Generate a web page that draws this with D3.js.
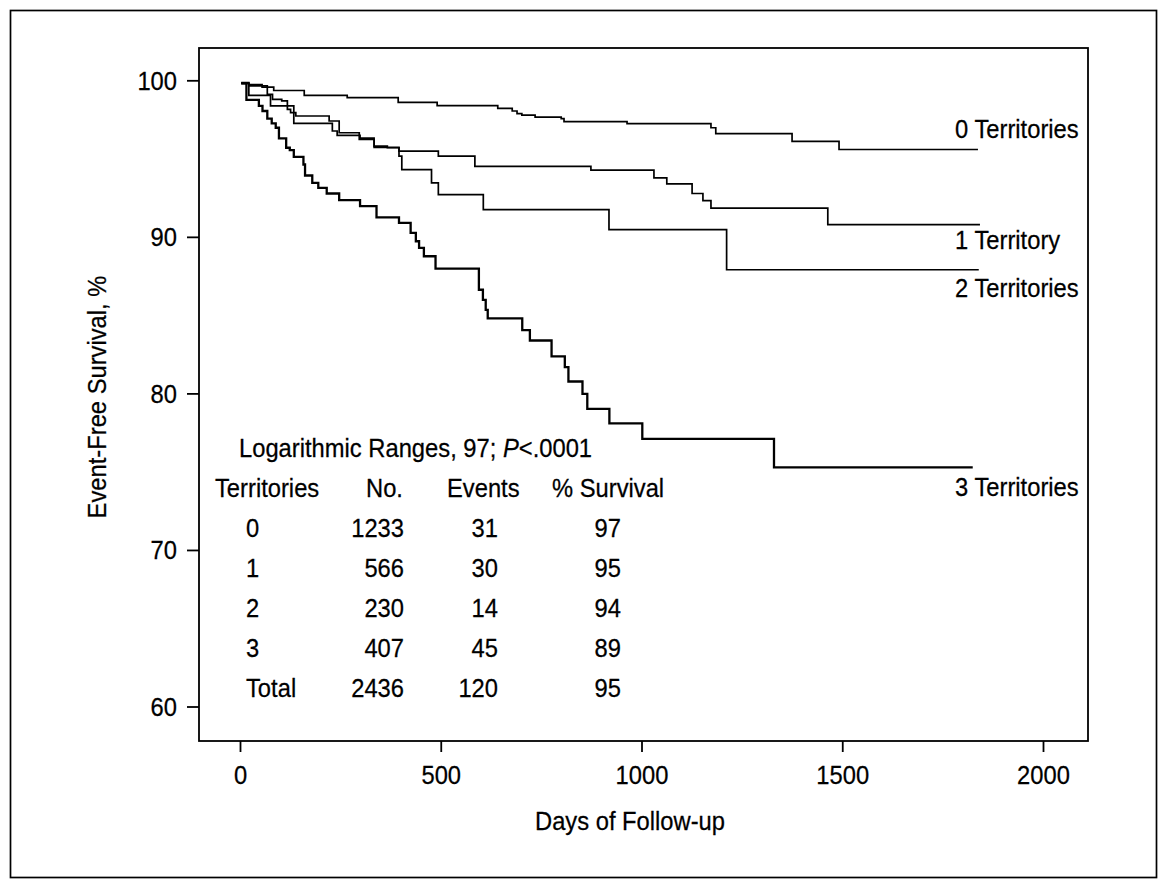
<!DOCTYPE html>
<html>
<head>
<meta charset="utf-8">
<script src="https://cdn.jsdelivr.net/npm/d3@7"></script>
<style>
  html, body { margin: 0; padding: 0; background: #fff; }
  svg text { font-family: "Liberation Sans", Arial, sans-serif; fill: #000; }
</style>
</head>
<body>
<svg id="chart" width="1166" height="887"></svg>
<script>
// ---- data ----
const groupNames = ["0 Territories", "1 Territory", "2 Territories", "3 Territories"];
// step points: [day, event-free survival % from that day on]
const surv0 = [[3,99.85],[22,99.72],[55,99.57],[84,99.35],[160,99.04],[267,98.89],[394,98.59],[491,98.38],[642,98.21],[678,98.04],[690,97.87],[702,97.78],[735,97.65],[800,97.55],[807,97.36],[964,97.23],[1173,96.97],[1185,96.6],[1375,96.1],[1492,95.58]];
const surv1 = [[3,99.8],[22,99.64],[68,99.1],[81,98.78],[104,98.68],[118,98.14],[126,97.93],[139,97.72],[222,97.4],[247,96.65],[297,96.22],[334,95.8],[367,95.69],[396,95.48],[494,95.16],[585,94.5],[874,94.26],[1031,93.77],[1063,93.38],[1126,92.77],[1153,92.32],[1173,91.83],[1464,90.78]];
const surv2 = [[3,99.8],[22,99.04],[76,98.36],[134,97.25],[230,96.76],[242,96.48],[299,96.3],[334,95.72],[396,95.16],[403,94.3],[477,93.45],[494,92.7],[606,91.74],[919,90.46],[1212,87.9]];
const surv3 = [[3,99.8],[16,98.75],[47,98.36],[56,98.04],[68,97.55],[79,97.25],[89,96.97],[97,96.29],[115,95.69],[124,95.54],[134,95.11],[158,94.62],[162,93.92],[180,93.45],[195,93.13],[216,92.77],[247,92.34],[299,91.96],[340,91.25],[396,90.89],[425,90.25],[438,89.72],[446,89.29],[458,88.76],[487,87.97],[595,86.62],[605,85.98],[612,85.34],[617,84.79],[703,84.04],[722,83.38],[776,82.36],[809,81.68],[818,80.76],[853,79.97],[865,79.01],[920,78.09],[1002,77.09],[1330,75.28]];
const lastDays = [1838, 1843, 1840, 1825];

const xTicks = [0, 500, 1000, 1500, 2000];
const yTicks = [60, 70, 80, 90, 100];

const statLine = "Logarithmic Ranges, 97; ";
const statP = "P";
const statRest = "<.0001";
const tableHeaders = ["Territories", "No.", "Events", "% Survival"];
const tableTerritories = ["0", "1", "2", "3", "Total"];
const tableNo = [1233, 566, 230, 407, 2436];
const tableEvents = [31, 30, 14, 45, 120];
const tableSurvival = [97, 95, 94, 89, 95];

// ---- drawing ----
const svg = d3.select("#chart");
const FS = 25, SX = 0.95;

function addText(parent, px, py, str, anchor, extra) {
  return parent.append("text")
    .attr("transform", `translate(${px},${py}) ${extra || ""} scale(${SX},1)`)
    .attr("text-anchor", anchor || "start")
    .attr("font-size", FS)
    .attr("stroke", "#000").attr("stroke-width", 0.25)
    .text(str);
}

svg.append("rect").attr("x", 10.5).attr("y", 10.5).attr("width", 1146).attr("height", 867)
  .attr("fill", "none").attr("stroke", "#000").attr("stroke-width", 1.7);

const frame = {left: 199, right: 1088, top: 48, bottom: 741};
const x = d3.scaleLinear().domain([0, 2000]).range([240, 1043]);
const y = d3.scaleLinear().domain([60, 100]).range([706.5, 80.3]);

svg.append("rect").attr("x", frame.left).attr("y", frame.top)
  .attr("width", frame.right - frame.left).attr("height", frame.bottom - frame.top)
  .attr("fill", "none").attr("stroke", "#000").attr("stroke-width", 1.8);

const yAxis = svg.append("g").attr("transform", `translate(${frame.left},0)`)
  .call(d3.axisLeft(y).tickValues(yTicks).tickSize(12).tickPadding(10).tickFormat(d3.format("d")));
yAxis.select(".domain").remove();
yAxis.selectAll(".tick line").attr("stroke", "#000").attr("stroke-width", 1.8);
yAxis.selectAll(".tick text").remove();
yAxis.selectAll(".tick").each(function(d) {
  addText(d3.select(this), -22, 9, d3.format("d")(d), "end");
});

const xAxis = svg.append("g").attr("transform", `translate(0,${frame.bottom})`)
  .call(d3.axisBottom(x).tickValues(xTicks).tickSize(11).tickPadding(14).tickFormat(d3.format("d")));
xAxis.select(".domain").remove();
xAxis.selectAll(".tick line").attr("stroke", "#000").attr("stroke-width", 1.8);
xAxis.selectAll(".tick text").remove();
xAxis.selectAll(".tick").each(function(d) {
  addText(d3.select(this), 0, 43, d3.format("d")(d), "middle");
});
svg.selectAll("g").attr("font-family", null);

addText(svg, 630, 830, "Days of Follow-up", "middle");
addText(svg, 106, 397, "Event-Free Survival, %", "middle", "rotate(-90)");

const line = d3.line().x(d => x(d[0])).y(d => y(d[1])).curve(d3.curveStepAfter);
const series = [surv0, surv1, surv2, surv3];
const widths = [1.7, 1.7, 1.7, 2.3];
series.forEach((s, i) => {
  const pts = s.concat([[lastDays[i], s[s.length - 1][1]]]);
  svg.append("path").attr("d", line(pts)).attr("fill", "none")
    .attr("stroke", "#000").attr("stroke-width", widths[i]);
});

// curve labels
const labelOffsets = [-11, 24, 27, 29];
series.forEach((s, i) => {
  addText(svg, x(1781), y(s[s.length - 1][1]) + labelOffsets[i], groupNames[i], "start");
});

// stats table
const st = addText(svg, 239, 457, null, "start");
st.append("tspan").text(statLine);
st.append("tspan").attr("font-style", "italic").text(statP);
st.append("tspan").text(statRest);

const headerX = [215, 366, 447, 552];
tableHeaders.forEach((h, i) => addText(svg, headerX[i], 497, h, "start"));
const rowY = d3.range(tableTerritories.length).map(i => 537 + i * 40);
tableTerritories.forEach((t, i) => {
  addText(svg, 246, rowY[i], t, "start");
  addText(svg, 404, rowY[i], tableNo[i], "end");
  addText(svg, 498, rowY[i], tableEvents[i], "end");
  addText(svg, 621, rowY[i], tableSurvival[i], "end");
});
</script>
</body>
</html>
